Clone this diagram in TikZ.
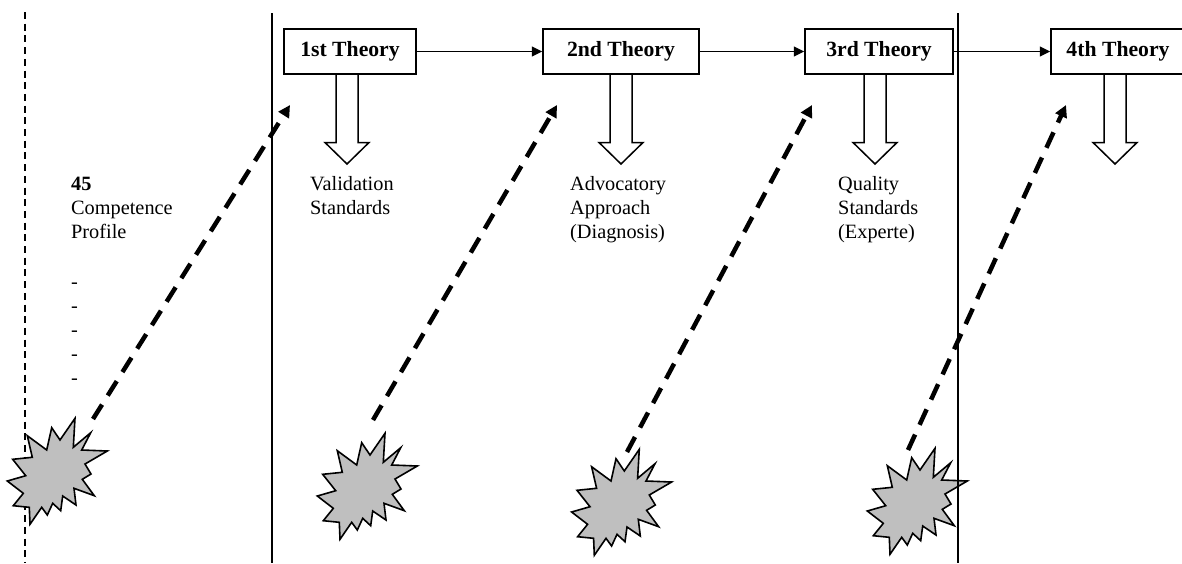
\documentclass[tikz,border=0pt]{standalone}
\usepackage{fontspec}
\setmainfont{Liberation Serif}
\usetikzlibrary{arrows.meta}
\tikzset{
  x=1pt,y=-1pt,
  theorybox/.style={draw,line width=1.5pt,fill=white,minimum height=45pt,inner sep=0pt,font=\fontsize{21.7}{24}\selectfont\bfseries},
  flow/.style={line width=1.5pt,-{Triangle[length=10.5pt,width=10pt]}},
  divider/.style={line width=1.6pt},
  guide/.style={line width=1.5pt,dash pattern=on 7pt off 4.7pt},
  impact/.style={line width=4.5pt,dash pattern=on 17pt off 10.7pt,-{Triangle[length=12pt,width=12pt]}},
  blockarrow/.style={draw,line width=1.5pt,fill=white,line join=miter},
  burst/.style={draw,line width=1.6pt,fill=black!25,line join=miter},
  caption/.style={anchor=north west,align=left,inner sep=0pt,font=\fontsize{20.3}{24}\selectfont},
}
\newcommand{\burstat}[2]{%
  \draw[burst,shift={(#1,#2)}] (75,418.3)--(73.3,447.3)--(90.7,432.7)--(81.7,450)--(107.3,451)--(85,464)--(91,474)--(82.3,479.3)--(94.3,495.7)--(74,488.3)--(76,505)--(62.7,496)--(60.7,510.7)--(52.7,503.3)--(47.3,515)--(41.7,507.3)--(30,524.3)--(29.3,507.3)--(13.3,505.7)--(23.3,493.3)--(7.3,481)--(25.7,475.7)--(12.7,459.3)--(32.3,457.3)--(27.3,435.7)--(46.7,450)--(51.7,427.7)--(60,440)--cycle;}
\newcommand{\blockat}[1]{%
  \draw[blockarrow,shift={(#1,0)}] (-11,74.5)--(-11,142.5)--(-22,142.5)--(0,164)--(22,142.5)--(11,142.5)--(11,74.5);}
\begin{document}
\begin{tikzpicture}
\useasboundingbox (0,0) rectangle (1182,563);
\coordinate (gtop) at (25,12); \coordinate (gbot) at (25,563);
\coordinate (d1top) at (272,13); \coordinate (d1bot) at (272,563);
\coordinate (d2top) at (958,13); \coordinate (d2bot) at (958,563);
\draw[guide] (gtop)--(gbot);
\coordinate (s1) at (93,419); \coordinate (t1) at (290,105);
\coordinate (s2) at (373,420); \coordinate (t2) at (557,105);
\coordinate (s3) at (627,452); \coordinate (t3) at (812,105);
\coordinate (s4) at (908,450); \coordinate (t4) at (1066,105);
\draw[impact] (s1)--(t1);
\draw[impact] (s2)--(t2);
\draw[impact] (s3)--(t3);
\draw[impact] (s4)--(t4);
\burstat{0}{0}
\burstat{310}{15}
\burstat{564.3}{31}
\burstat{860}{30}
\draw[divider] (d1top)--(d1bot);
\draw[divider] (d2top)--(d2bot);
\blockat{347}
\blockat{621}
\blockat{875}
\blockat{1115}
\node[theorybox,minimum width=132pt] (b1) at (350,51.5) {1st Theory};
\node[theorybox,minimum width=156pt] (b2) at (621,51.5) {2nd Theory};
\node[theorybox,minimum width=148pt] (b3) at (879,51.5) {3rd Theory};
\node[theorybox,minimum width=134pt] (b4) at (1118,51.5) {4th Theory};
\draw[flow] (b1)--(b2);
\draw[flow] (b2)--(b3);
\draw[flow] (b3)--(b4);
\node[caption] (c0) at (71,176.5) {\textbf{45}\\Competence\\Profile\\[26pt]-\\-\\-\\-\\-};
\node[caption] (c1) at (310,176.5) {Validation\\Standards};
\node[caption] (c2) at (570,176.5) {Advocatory\\Approach\\(Diagnosis)};
\node[caption] (c3) at (838,176.5) {Quality\\Standards\\(Experte)};
\end{tikzpicture}
\end{document}
